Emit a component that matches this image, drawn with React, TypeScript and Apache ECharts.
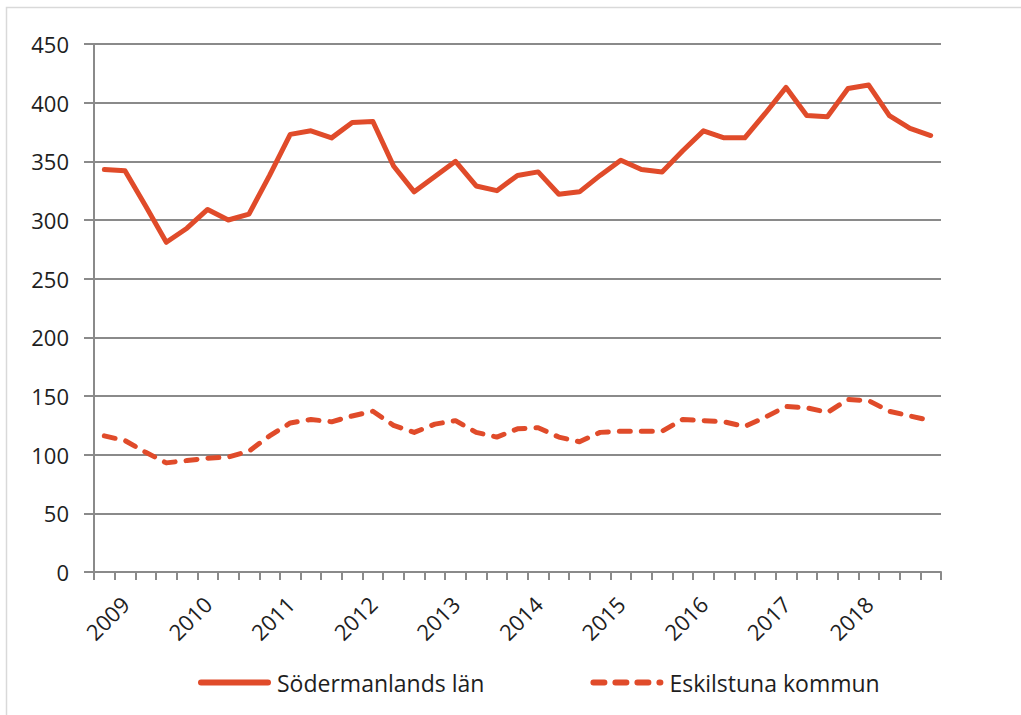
import React, { useEffect, useRef } from "react";
import * as echarts from "echarts";

const quarters: string[] = [
  "2008 Q4",
  "2009 Q1", "2009 Q2", "2009 Q3", "2009 Q4",
  "2010 Q1", "2010 Q2", "2010 Q3", "2010 Q4",
  "2011 Q1", "2011 Q2", "2011 Q3", "2011 Q4",
  "2012 Q1", "2012 Q2", "2012 Q3", "2012 Q4",
  "2013 Q1", "2013 Q2", "2013 Q3", "2013 Q4",
  "2014 Q1", "2014 Q2", "2014 Q3", "2014 Q4",
  "2015 Q1", "2015 Q2", "2015 Q3", "2015 Q4",
  "2016 Q1", "2016 Q2", "2016 Q3", "2016 Q4",
  "2017 Q1", "2017 Q2", "2017 Q3", "2017 Q4",
  "2018 Q1", "2018 Q2", "2018 Q3", "2018 Q4",
];

const sodermanland: number[] = [
  343, 342, 312, 281, 293, 309, 300, 305, 338, 373, 376, 370, 383, 384,
  346, 324, 337, 350, 329, 325, 338, 341, 322, 324, 338, 351, 343, 341,
  359, 376, 370, 370, 391, 413, 389, 388, 412, 415, 389, 378, 372,
];

const eskilstuna: number[] = [
  116, 112, 102, 93, 95, 97, 98, 103, 116, 127, 130, 128, 133, 137,
  125, 119, 126, 129, 119, 115, 122, 123, 115, 111, 119, 120, 120, 120,
  130, 129, 128, 124, 132, 141, 140, 136, 147, 146, 137, 133, 129,
];

const seriesNames: string[] = ["Södermanlands län", "Eskilstuna kommun"];

const RED = "#E04B2A";
const GRID_GRAY = "#8a8a8a";
const FONT = "'Open Sans', sans-serif";

export default function App() {
  const ref = useRef<HTMLDivElement>(null);

  useEffect(() => {
    if (!ref.current) return;
    const chart = echarts.init(ref.current, undefined, { renderer: "svg" });
    chart.setOption({
      animation: false,
      backgroundColor: "#ffffff",
      graphic: [
        {
          type: "rect",
          shape: { x: 6.5, y: 7.5, width: 1100, height: 800 },
          style: { fill: "none", stroke: "#d9d9d9", lineWidth: 1.5 },
          silent: true,
        },
      ],
      grid: { left: 94, right: 80, top: 44, bottom: 143, containLabel: false },
      legend: {
        left: 193,
        top: 666,
        itemWidth: 67,
        itemHeight: 14,
        itemGap: 106,
        itemStyle: { opacity: 0 },
        lineStyle: { width: 6 },
        textStyle: { fontFamily: FONT, fontSize: 23, color: "#1e1e1e", padding: [0, 0, 0, 4] },
        data: seriesNames,
      },
      xAxis: {
        type: "category",
        data: quarters,
        boundaryGap: true,
        axisLine: { lineStyle: { color: GRID_GRAY, width: 2 } },
        axisTick: { show: true, interval: 0, length: 8, lineStyle: { color: GRID_GRAY, width: 2 } },
        axisLabel: {
          interval: 0,
          rotate: 45,
          margin: 28,
          fontFamily: FONT,
          fontSize: 22,
          color: "#1e1e1e",
          formatter: (v: string) => (v.endsWith("Q1") ? v.slice(0, 4) : ""),
        },
        splitLine: { show: false },
      },
      yAxis: {
        type: "value",
        min: 0,
        max: 450,
        interval: 50,
        axisLine: { show: true, lineStyle: { color: GRID_GRAY, width: 2 } },
        axisTick: { show: true, length: 10, lineStyle: { color: GRID_GRAY, width: 2 } },
        axisLabel: {
          margin: 25,
          fontFamily: FONT,
          fontSize: 22,
          color: "#1e1e1e",
        },
        splitLine: { show: true, lineStyle: { color: GRID_GRAY, width: 2 } },
      },
      series: [
        {
          name: seriesNames[0],
          type: "line",
          data: sodermanland,
          symbol: "none",
          lineStyle: { color: RED, width: 5, cap: "round", join: "round" },
          itemStyle: { color: RED },
        },
        {
          name: seriesNames[1],
          type: "line",
          data: eskilstuna,
          symbol: "none",
          lineStyle: { color: RED, width: 5, type: [11, 11], cap: "round", join: "round" },
          itemStyle: { color: RED },
        },
      ],
    });
    return () => chart.dispose();
  }, []);

  return (
    <div
      ref={ref}
      style={{ position: "fixed", left: 0, top: 0, width: 1021, height: 715 }}
    />
  );
}
